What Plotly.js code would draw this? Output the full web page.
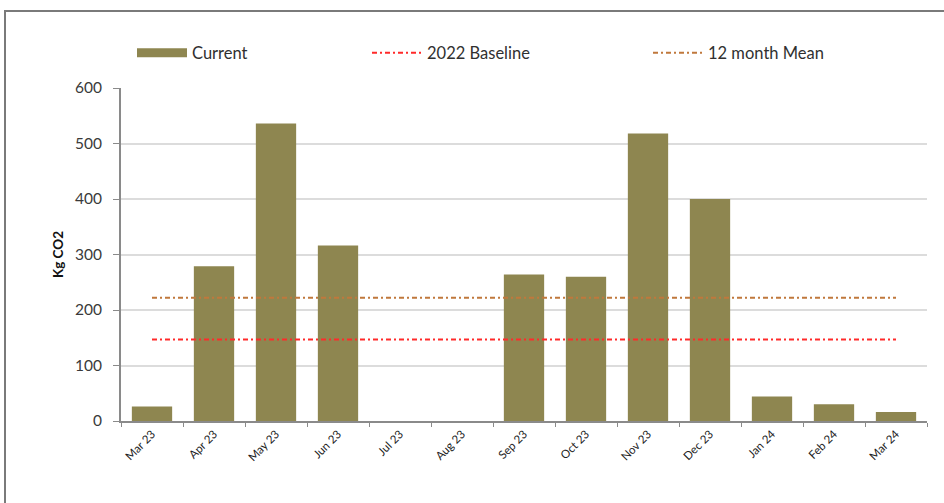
<!DOCTYPE html>
<html>
<head>
<meta charset="utf-8">
<script src="https://cdn.plot.ly/plotly-3.0.1.min.js"></script>
<style>
  html, body { margin: 0; padding: 0; background: #fff; overflow: hidden; }
  #chart { width: 944px; height: 503px; position: absolute; left: 0; top: 0; }
  #frame { position: absolute; left: 4px; top: 10px; width: 1000px; height: 600px;
           border: 2px solid #7a7a7a; pointer-events: none; }
</style>
</head>
<body>
<div id="chart"></div>
<div id="frame"></div>
<script>
// Monthly CO2 (kg) with reference levels
const months = ["Mar 23", "Apr 23", "May 23", "Jun 23", "Jul 23", "Aug 23", "Sep 23",
                "Oct 23", "Nov 23", "Dec 23", "Jan 24", "Feb 24", "Mar 24"];
const current = [26, 279, 536, 316, 0, 0, 264, 260, 518, 400, 44, 30, 16];
const baseline2022 = [147, 147, 147, 147, 147, 147, 147, 147, 147, 147, 147, 147, 147];
const mean12 = [222, 222, 222, 222, 222, 222, 222, 222, 222, 222, 222, 222, 222];
const yTicks = [0, 100, 200, 300, 400, 500, 600];

const FONT = "Lato, 'Liberation Sans', sans-serif";
const OLIVE = "#8e8650";

const traces = [
  {
    type: "bar", x: months, y: current, name: "Current", showlegend: false,
    marker: { color: OLIVE, line: { width: 0 } },
    hoverinfo: "x+y"
  },
  // legend key for the bars (wide flat swatch)
  {
    type: "scatter", mode: "lines", x: [null], y: [null], name: "Current",
    line: { color: OLIVE, width: 9 }, legend: "legend"
  },
  {
    type: "scatter", mode: "lines", x: months, y: baseline2022, name: "2022 Baseline",
    line: { color: "#ff2a2a", width: 2, dash: "5px,3px,2px,3px" }, legend: "legend2"
  },
  {
    type: "scatter", mode: "lines", x: months, y: mean12, name: "12 month Mean",
    line: { color: "#c0783c", width: 2, dash: "5px,3px,2px,3px" }, legend: "legend3"
  }
];

const legendBase = {
  orientation: "h", xref: "container", yref: "container",
  yanchor: "middle", xanchor: "left", y: 1 - 53 / 503, itemwidth: 50,
  font: { family: FONT, size: 16.5, color: "#303030" },
  bgcolor: "rgba(0,0,0,0)", borderwidth: 0
};

const layout = {
  width: 944, height: 503,
  paper_bgcolor: "#ffffff", plot_bgcolor: "#ffffff",
  margin: { l: 121, r: 17, t: 88, b: 82 },
  font: { family: FONT, color: "#333" },
  bargap: 0.35,
  xaxis: {
    type: "category", categoryorder: "array", categoryarray: months,
    tickangle: -45, tickson: "boundaries", ticks: "outside", ticklen: 4,
    tickcolor: "#8a8a8a", showline: true, linecolor: "#8a8a8a", linewidth: 2,
    showgrid: false, zeroline: false,
    tickfont: { family: FONT, size: 11.5, color: "#222" }
  },
  yaxis: {
    range: [0, 600], tickvals: yTicks, ticktext: yTicks.map(String),
    ticks: "outside", ticklen: 6, tickcolor: "#8a8a8a",
    showline: true, linecolor: "#8a8a8a", linewidth: 2,
    showgrid: true, gridcolor: "#dcdcdc", gridwidth: 2, zeroline: false,
    ticklabelstandoff: 8,
    tickfont: { family: FONT, size: 15.5, color: "#3a3a3a" },
    title: { text: "<b>Kg CO2</b>", standoff: 8, font: { family: FONT, size: 13.5, color: "#111" } }
  },
  legend: Object.assign({}, legendBase, { x: 132 / 944 }),
  legend2: Object.assign({}, legendBase, { x: 367 / 944 }),
  legend3: Object.assign({}, legendBase, { x: 648 / 944 }),
  showlegend: true
};

Plotly.newPlot("chart", traces, layout, { displayModeBar: false, staticPlot: true });
</script>
</body>
</html>
